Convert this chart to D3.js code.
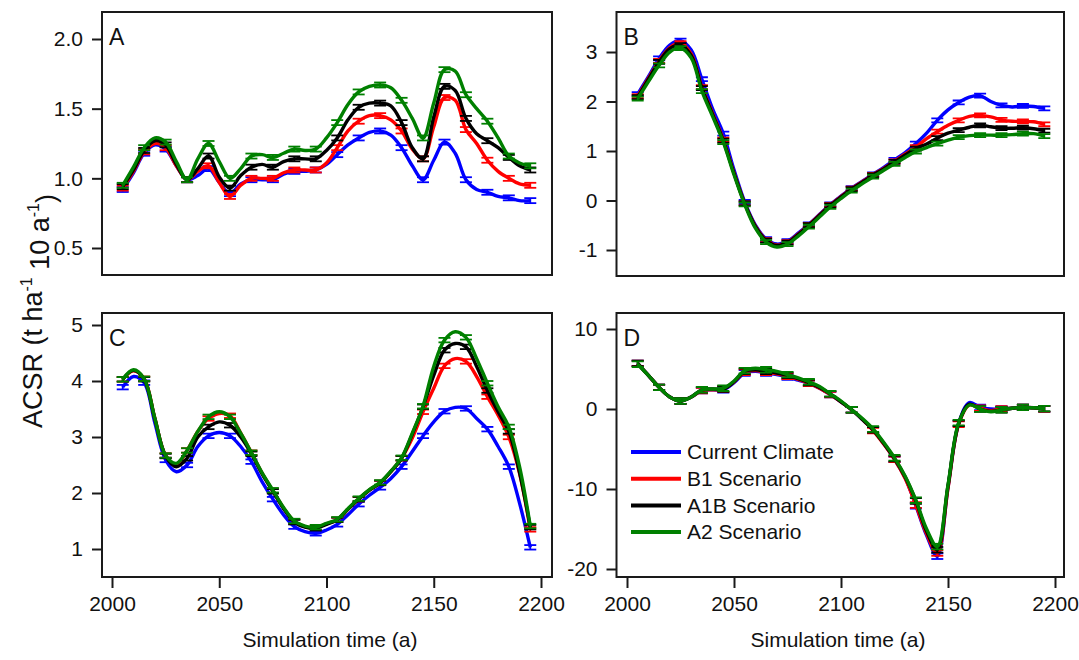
<!DOCTYPE html>
<html>
<head>
<meta charset="utf-8">
<script src="https://cdnjs.cloudflare.com/ajax/libs/d3/7.8.5/d3.min.js"></script>
<style>
body { margin: 0; background: #fff; }
svg { display: block; font-family: "Liberation Sans", Arial, sans-serif; }
</style>
</head>
<body>
<svg id="chart" width="1079" height="660"></svg>
<script>
// simulation years (5-year steps), error bars shown every 10 years
var years = [2005,2010,2015,2020,2025,2030,2035,2040,2045,2050,
             2055,2060,2065,2070,2075,2080,2085,2090,2095,2100,
             2105,2110,2115,2120,2125,2130,2135,2140,2145,2150,
             2155,2160,2165,2170,2175,2180,2185,2190,2195];

var seriesNames = ["Current Climate", "B1 Scenario", "A1B Scenario", "A2 Scenario"];
var seriesColors = ["#0000ff", "#ff0000", "#000000", "#008000"];

// Panel A
var aCurrent = [0.92,1.04,1.18,1.24,1.21,1.09,0.99,1.02,1.07,0.97,
                0.89,0.96,0.99,0.99,0.99,1.03,1.05,1.05,1.06,1.10,
                1.17,1.24,1.29,1.33,1.34,1.31,1.22,1.09,0.99,1.13,
                1.26,1.18,0.99,0.92,0.90,0.87,0.86,0.84,0.84];
var aB1      = [0.93,1.05,1.19,1.25,1.22,1.09,0.99,1.05,1.09,0.97,
                0.87,0.95,1.00,1.00,1.00,1.04,1.06,1.06,1.06,1.11,
                1.22,1.34,1.41,1.45,1.45,1.42,1.34,1.21,1.14,1.37,
                1.58,1.56,1.35,1.25,1.13,1.05,1.00,0.96,0.95];
var aA1B     = [0.94,1.06,1.20,1.27,1.24,1.10,0.99,1.07,1.16,1.01,
                0.93,1.02,1.08,1.10,1.08,1.12,1.14,1.14,1.14,1.20,
                1.29,1.42,1.51,1.54,1.54,1.52,1.40,1.22,1.14,1.44,
                1.66,1.63,1.43,1.32,1.27,1.22,1.15,1.09,1.06];
var aA2      = [0.95,1.08,1.22,1.29,1.26,1.12,0.99,1.14,1.25,1.12,
                1.00,1.07,1.16,1.17,1.15,1.18,1.21,1.20,1.21,1.29,
                1.40,1.53,1.62,1.66,1.67,1.65,1.56,1.43,1.29,1.54,
                1.78,1.77,1.60,1.50,1.41,1.29,1.16,1.11,1.09];

// Panel B
var bCurrent = [2.15,2.50,2.87,3.14,3.23,3.04,2.45,1.85,1.35,0.62,
                -0.03,-0.50,-0.78,-0.88,-0.82,-0.66,-0.48,-0.28,-0.08,0.09,
                0.25,0.39,0.53,0.67,0.82,0.97,1.15,1.36,1.62,1.83,
                1.98,2.09,2.12,2.00,1.92,1.89,1.91,1.90,1.86];
var bB1      = [2.11,2.47,2.82,3.09,3.18,2.96,2.29,1.76,1.23,0.56,
                -0.06,-0.52,-0.80,-0.90,-0.84,-0.68,-0.49,-0.29,-0.09,0.08,
                0.24,0.38,0.52,0.65,0.79,0.94,1.08,1.25,1.39,1.52,
                1.62,1.70,1.72,1.69,1.63,1.60,1.60,1.59,1.54];
var bA1B     = [2.09,2.45,2.80,3.07,3.14,2.93,2.27,1.74,1.21,0.55,
                -0.06,-0.53,-0.81,-0.91,-0.85,-0.69,-0.50,-0.30,-0.10,0.07,
                0.23,0.37,0.51,0.64,0.78,0.92,1.05,1.14,1.26,1.36,
                1.42,1.48,1.52,1.49,1.46,1.46,1.47,1.45,1.41];
var bA2      = [2.06,2.40,2.73,3.00,3.08,2.88,2.21,1.70,1.18,0.52,
                -0.08,-0.56,-0.84,-0.94,-0.88,-0.72,-0.53,-0.33,-0.13,0.04,
                0.20,0.34,0.48,0.61,0.74,0.87,0.99,1.07,1.15,1.22,
                1.28,1.31,1.32,1.32,1.32,1.33,1.35,1.35,1.30];

// Panel C
var cCurrent = [3.89,4.08,3.97,3.25,2.59,2.38,2.50,2.83,3.02,3.08,
                3.02,2.83,2.56,2.20,1.89,1.61,1.40,1.31,1.28,1.34,
                1.44,1.61,1.80,1.96,2.10,2.26,2.47,2.74,3.02,3.27,
                3.46,3.53,3.51,3.33,3.14,2.83,2.47,1.82,1.03];
var cB1      = [4.03,4.18,4.04,3.33,2.67,2.50,2.76,3.10,3.33,3.42,
                3.38,3.07,2.72,2.35,2.04,1.73,1.49,1.40,1.38,1.45,
                1.52,1.71,1.89,2.05,2.18,2.38,2.62,2.98,3.45,3.87,
                4.27,4.40,4.35,4.08,3.72,3.39,3.00,2.35,1.35];
var cA1B     = [4.03,4.19,4.03,3.32,2.66,2.47,2.62,3.00,3.18,3.27,
                3.21,3.00,2.70,2.34,2.03,1.72,1.48,1.39,1.37,1.44,
                1.52,1.71,1.89,2.05,2.18,2.38,2.62,3.05,3.54,4.10,
                4.55,4.67,4.61,4.26,3.83,3.45,3.10,2.37,1.39];
var cA2      = [4.03,4.20,4.04,3.33,2.67,2.53,2.76,3.10,3.36,3.45,
                3.36,3.07,2.72,2.36,2.05,1.74,1.50,1.41,1.39,1.46,
                1.53,1.72,1.90,2.06,2.19,2.39,2.63,3.07,3.55,4.26,
                4.73,4.88,4.78,4.40,3.96,3.54,3.18,2.47,1.41];

// Panel D
var dCurrent = [5.7,4.2,2.7,1.5,1.0,1.5,2.3,2.4,2.4,3.3,
                4.5,4.7,4.5,4.3,4.0,3.6,3.2,2.6,1.8,0.9,
                -0.1,-1.3,-2.6,-4.3,-6.3,-8.6,-12.1,-15.8,-18.4,-9.8,
                -1.8,0.8,0.2,0.0,0.0,0.1,0.2,0.15,0.0];
var dB1      = [5.7,4.2,2.7,1.5,1.0,1.5,2.3,2.4,2.5,3.4,
                4.6,4.8,4.6,4.4,4.1,3.7,3.2,2.6,1.8,0.9,
                -0.1,-1.3,-2.7,-4.4,-6.3,-8.7,-12.0,-15.6,-18.0,-9.9,
                -1.9,0.5,0.1,-0.2,0.0,0.1,0.2,0.15,0.0];
var dA1B     = [5.7,4.2,2.7,1.5,1.0,1.5,2.4,2.5,2.5,3.4,
                4.7,4.9,4.7,4.5,4.2,3.8,3.3,2.7,1.9,0.9,
                -0.1,-1.3,-2.6,-4.3,-6.2,-8.5,-11.5,-15.3,-17.6,-9.6,
                -1.8,0.6,0.0,-0.3,-0.1,0.1,0.2,0.15,0.05];
var dA2      = [5.6,4.2,2.7,1.5,1.0,1.5,2.4,2.5,2.6,3.5,
                4.8,5.1,4.9,4.7,4.3,3.9,3.4,2.8,1.9,1.0,
                -0.1,-1.2,-2.5,-4.2,-6.1,-8.4,-11.4,-15.0,-17.2,-9.5,
                -1.7,0.5,0.0,-0.35,-0.1,0.1,0.2,0.15,0.05];

// half-width of error bars per panel
var errA = 0.018, errB = 0.04, errC = 0.04, errD = 0.35;

var xTicks = [2000, 2050, 2100, 2150, 2200];
var ticksA = [0.5, 1.0, 1.5, 2.0];
var ticksB = [-1, 0, 1, 2, 3];
var ticksC = [1, 2, 3, 4, 5];
var ticksD = [-20, -10, 0, 10];

var svg = d3.select("#chart");

// layout: frame box, and pixel positions of first/last ticks
var panels = [
  {label: "A", series: [aCurrent, aB1, aA1B, aA2], err: errA, ticks: ticksA, fmt: d3.format(".1f"),
   frame: [102, 12, 552, 275], xr: [112, 541], yd: [0.5, 2.0], yr: [248, 39], xaxis: false},
  {label: "B", series: [bCurrent, bB1, bA1B, bA2], err: errB, ticks: ticksB, fmt: String,
   frame: [616.5, 12, 1064, 276], xr: [627, 1055], yd: [-1, 3], yr: [250, 52], xaxis: false},
  {label: "C", series: [cCurrent, cB1, cA1B, cA2], err: errC, ticks: ticksC, fmt: String,
   frame: [102, 313, 552, 577], xr: [112, 541], yd: [1, 5], yr: [549, 325], xaxis: true},
  {label: "D", series: [dCurrent, dB1, dA1B, dA2], err: errD, ticks: ticksD, fmt: String,
   frame: [616.5, 313, 1064, 577], xr: [627, 1055], yd: [-20, 10], yr: [569, 329], xaxis: true}
];

panels.forEach(function(p) {
  var f = p.frame;
  var x = d3.scaleLinear().domain([2000, 2200]).range(p.xr);
  var y = d3.scaleLinear().domain(p.yd).range(p.yr);
  var g = svg.append("g");

  // y axis
  var ya = g.append("g")
      .attr("transform", "translate(" + f[0] + ",0)")
      .call(d3.axisLeft(y).tickValues(p.ticks).tickSize(10).tickPadding(9).tickFormat(p.fmt));
  ya.select(".domain").remove();
  ya.selectAll("line").attr("stroke", "#1a1a1a").attr("stroke-width", 2);
  ya.selectAll("text").attr("font-size", 21).attr("fill", "#111")
      .attr("font-family", "'Liberation Sans', Arial, sans-serif");

  // x axis only on bottom row
  if (p.xaxis) {
    var xa = g.append("g")
        .attr("transform", "translate(0," + f[3] + ")")
        .call(d3.axisBottom(x).tickValues(xTicks).tickSize(11).tickPadding(8).tickFormat(d3.format("d")));
    xa.select(".domain").remove();
    xa.selectAll("line").attr("stroke", "#1a1a1a").attr("stroke-width", 2);
    xa.selectAll("text").attr("font-size", 21).attr("fill", "#111")
        .attr("font-family", "'Liberation Sans', Arial, sans-serif");
  }

  var clipId = "clip" + p.label;
  g.append("clipPath").attr("id", clipId)
    .append("rect").attr("x", f[0]).attr("y", f[1]).attr("width", f[2] - f[0]).attr("height", f[3] - f[1]);

  var plot = g.append("g").attr("clip-path", "url(#" + clipId + ")");

  var line = d3.line()
      .x(function(d, i) { return x(years[i]); })
      .y(function(d) { return y(d); })
      .curve(d3.curveCatmullRom.alpha(0.5));

  p.series.forEach(function(vals, si) {
    var col = seriesColors[si];
    plot.append("path")
      .datum(vals)
      .attr("fill", "none")
      .attr("stroke", col)
      .attr("stroke-width", 3.4)
      .attr("stroke-linejoin", "round")
      .attr("d", line);

    var bars = vals.map(function(v, i) { return {yr: years[i], v: v}; })
      .filter(function(d, i) { return i % 2 === 0; });

    var eb = plot.append("g").attr("stroke", col).attr("stroke-width", 1.8);
    bars.forEach(function(d) {
      var cx = x(d.yr), y0 = y(d.v - p.err), y1 = y(d.v + p.err);
      eb.append("line").attr("x1", cx).attr("x2", cx).attr("y1", y0).attr("y2", y1);
      eb.append("line").attr("x1", cx - 6).attr("x2", cx + 6).attr("y1", y0).attr("y2", y0);
      eb.append("line").attr("x1", cx - 6).attr("x2", cx + 6).attr("y1", y1).attr("y2", y1);
    });
  });

  // frame
  g.append("rect")
    .attr("x", f[0]).attr("y", f[1])
    .attr("width", f[2] - f[0]).attr("height", f[3] - f[1])
    .attr("fill", "none").attr("stroke", "#1a1a1a").attr("stroke-width", 2);

  g.append("text")
    .attr("x", f[0] + 7).attr("y", f[1] + 33)
    .attr("font-size", 23).attr("fill", "#111")
    .text(p.label);

  // legend lives in panel D
  if (p.label === "D") {
    var lg = g.append("g");
    seriesNames.forEach(function(name, i) {
      var ly = 452 + i * 26.7;
      lg.append("line").attr("x1", 631).attr("x2", 681).attr("y1", ly).attr("y2", ly)
        .attr("stroke", seriesColors[i]).attr("stroke-width", 4);
      lg.append("text").attr("x", 687).attr("y", ly).attr("dy", "0.35em")
        .attr("font-size", 21).attr("fill", "#111").text(name);
    });
  }
});

// axis titles
[330, 838].forEach(function(cx) {
  svg.append("text")
    .attr("x", cx).attr("y", 647)
    .attr("text-anchor", "middle")
    .attr("font-size", 21).attr("fill", "#111")
    .text("Simulation time (a)");
});

var yt = svg.append("text")
    .attr("transform", "translate(42,311) rotate(-90)")
    .attr("text-anchor", "middle")
    .attr("font-size", 27).attr("fill", "#111");
yt.append("tspan").text("ACSR (t ha");
yt.append("tspan").attr("font-size", 16).attr("dy", "-0.6em").text("-1");
yt.append("tspan").attr("dy", "0.6em").text(" 10 a");
yt.append("tspan").attr("font-size", 16).attr("dy", "-0.6em").text("-1");
yt.append("tspan").attr("dy", "0.6em").text(")");
</script>
</body>
</html>
